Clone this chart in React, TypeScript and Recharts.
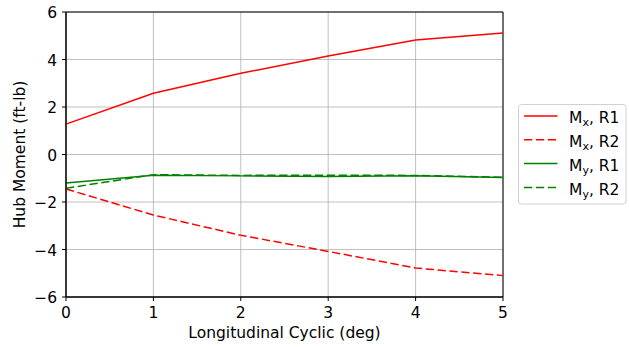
import React from "react";
import {
  LineChart,
  Line,
  XAxis,
  YAxis,
  CartesianGrid,
  ReferenceArea,
} from "recharts";

const cyclic = [0, 1, 2, 3, 4, 5];
const mxR1 = [1.28, 2.58, 3.42, 4.15, 4.82, 5.12];
const mxR2 = [-1.45, -2.55, -3.4, -4.08, -4.78, -5.1];
const myR1 = [-1.2, -0.87, -0.9, -0.93, -0.9, -0.97];
const myR2 = [-1.42, -0.85, -0.88, -0.87, -0.88, -0.96];
const yTicks = [-6, -4, -2, 0, 2, 4, 6];

const FONT = "DejaVu Sans";
const FS = 15.5;
const DASH = "8.3 3.6";

const chartData = cyclic.map((x, i) => ({
  x,
  mxR1: mxR1[i],
  mxR2: mxR2[i],
  myR1: myR1[i],
  myR2: myR2[i],
}));

const legendItems = [
  { key: "mxR1", sub: "x", run: "R1", color: "#ff0000", dashed: false },
  { key: "mxR2", sub: "x", run: "R2", color: "#ff0000", dashed: true },
  { key: "myR1", sub: "y", run: "R1", color: "#008000", dashed: false },
  { key: "myR2", sub: "y", run: "R2", color: "#008000", dashed: true },
];
const legendRowY = [116, 139.8, 163.5, 187.5];

const fmt = (v: number) => String(v).replace("-", "\u2212");
const textStyle = { fontFamily: FONT, fontSize: FS };

const XTick = (props: any) => {
  const { x, y, payload } = props;
  return (
    <text x={x} y={y + 15} textAnchor="middle" fill="#000" style={textStyle}>
      {fmt(payload.value)}
    </text>
  );
};

const YTick = (props: any) => {
  const { x, y, payload } = props;
  return (
    <text x={x - 3} y={y + 6} textAnchor="end" fill="#000" style={textStyle}>
      {fmt(payload.value)}
    </text>
  );
};

export default function App() {
  return (
    <div
      style={{
        position: "absolute",
        left: 0,
        top: 0,
        width: 629,
        height: 347,
        background: "#fff",
      }}
    >
      <LineChart
        width={629}
        height={347}
        data={chartData}
        margin={{ top: 12, right: 126, bottom: 20, left: 0 }}
      >
        <CartesianGrid stroke="#b0b0b0" strokeWidth={0.8} />
        <XAxis
          dataKey="x"
          type="number"
          domain={[0, 5]}
          ticks={cyclic}
          tickSize={4}
          stroke="#000"
          tick={XTick}
          height={30}
        />
        <YAxis
          type="number"
          domain={[-6, 6]}
          ticks={yTicks}
          width={66}
          tickSize={4}
          stroke="#000"
          tick={YTick}
        />
        <ReferenceArea
          x1={0}
          x2={5}
          y1={-6}
          y2={6}
          fill="none"
          stroke="#000"
          strokeWidth={1}
          fillOpacity={0}
        />
        <Line dataKey="mxR1" stroke="#ff0000" strokeWidth={1.5} dot={false} isAnimationActive={false} />
        <Line
          dataKey="mxR2"
          stroke="#ff0000"
          strokeWidth={1.5}
          strokeDasharray={DASH}
          dot={false}
          isAnimationActive={false}
        />
        <Line dataKey="myR1" stroke="#008000" strokeWidth={1.5} dot={false} isAnimationActive={false} />
        <Line
          dataKey="myR2"
          stroke="#008000"
          strokeWidth={1.5}
          strokeDasharray={DASH}
          dot={false}
          isAnimationActive={false}
        />
      </LineChart>
      <svg
        width={629}
        height={347}
        style={{ position: "absolute", left: 0, top: 0, pointerEvents: "none" }}
      >
        <text x={284.5} y={338} textAnchor="middle" fill="#000" style={textStyle}>
          Longitudinal Cyclic (deg)
        </text>
        <text
          x={0}
          y={0}
          transform="translate(25,154.5) rotate(-90)"
          textAnchor="middle"
          fill="#000"
          style={textStyle}
        >
          Hub Moment (ft-lb)
        </text>
        <rect
          x={518.5}
          y={104.5}
          width={107.5}
          height={99.5}
          rx={3}
          fill="#fff"
          fillOpacity={0.8}
          stroke="#d0d0d0"
          strokeWidth={1}
        />
        {legendItems.map((it, i) => (
          <g key={it.key}>
            <line
              x1={524}
              x2={557.5}
              y1={legendRowY[i]}
              y2={legendRowY[i]}
              stroke={it.color}
              strokeWidth={1.5}
              strokeDasharray={it.dashed ? DASH : undefined}
            />
            <text x={569} y={legendRowY[i] + 7} fill="#000" style={textStyle}>
              M
              <tspan dy={3} style={{ fontSize: 11 }}>
                {it.sub}
              </tspan>
              <tspan dy={-3}>, {it.run}</tspan>
            </text>
          </g>
        ))}
      </svg>
    </div>
  );
}
